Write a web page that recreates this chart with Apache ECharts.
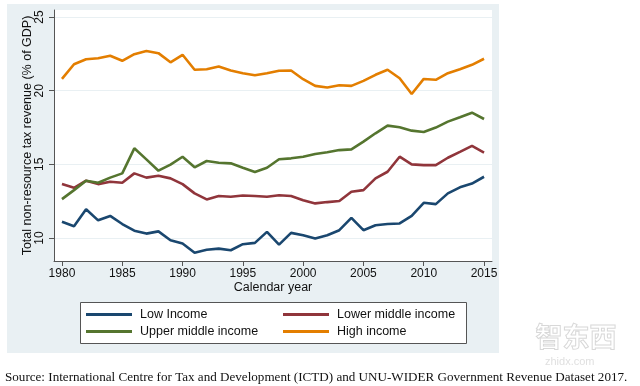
<!DOCTYPE html>
<html>
<head>
<meta charset="utf-8">
<script src="https://cdn.jsdelivr.net/npm/echarts@6/dist/echarts.min.js"></script>
<style>
html,body{margin:0;padding:0;background:#fff;}
#c{width:640px;height:386px;}
</style>
</head>
<body>
<div id="c"></div>
<script>
const years = [];
for (let y = 1980; y <= 2015; y++) years.push(y);
const xTicks = [1980, 1985, 1990, 1995, 2000, 2005, 2010, 2015];
const yTicks = [10, 15, 20, 25];

const lowIncome = [11.1, 10.8, 11.95, 11.2, 11.5, 10.95, 10.5, 10.3, 10.45, 9.85,
  9.63, 9.0, 9.2, 9.28, 9.17, 9.58, 9.67, 10.42, 9.55, 10.35,
  10.19, 9.97, 10.19, 10.53, 11.37, 10.53, 10.87, 10.95, 10.99, 11.51,
  12.39, 12.3, 13.03, 13.44, 13.7, 14.16];
const lowerMiddle = [13.66, 13.41, 13.89, 13.66, 13.82, 13.75, 14.39, 14.1, 14.23, 14.05,
  13.66, 13.03, 12.62, 12.85, 12.8, 12.89, 12.85, 12.8, 12.9, 12.85,
  12.57, 12.35, 12.44, 12.51, 13.14, 13.25, 14.05, 14.5, 15.52, 15.0,
  14.95, 14.95, 15.45, 15.85, 16.26, 15.8];
const upperMiddle = [12.64, 13.25, 13.89, 13.75, 14.1, 14.39, 16.09, 15.34, 14.57, 14.98,
  15.52, 14.8, 15.23, 15.11, 15.07, 14.77, 14.48, 14.77, 15.35, 15.41,
  15.52, 15.7, 15.82, 15.97, 16.02, 16.54, 17.11, 17.63, 17.52, 17.29,
  17.2, 17.5, 17.9, 18.2, 18.51, 18.08];
const highIncome = [20.8, 21.8, 22.14, 22.2, 22.37, 22.03, 22.48, 22.7, 22.55, 21.93,
  22.44, 21.42, 21.46, 21.64, 21.37, 21.19, 21.05, 21.19, 21.36, 21.37,
  20.78, 20.33, 20.22, 20.37, 20.33, 20.67, 21.08, 21.42, 20.85, 19.78,
  20.8, 20.74, 21.19, 21.46, 21.76, 22.17];

const seriesNames = ['Low Income', 'Lower middle income', 'Upper middle income', 'High income'];
const seriesData = [lowIncome, lowerMiddle, upperMiddle, highIncome];
const colors = ['#1a476f', '#90353b', '#55752f', '#e37e00'];

const font = 'Liberation Sans, Arial, sans-serif';
const chart = echarts.init(document.getElementById('c'), null, {renderer: 'canvas'});

function legendFor(name, left, top) {
  return {
    data: [name], left: left, top: top, orient: 'horizontal', z: 20,
    icon: 'rect', itemWidth: 46, itemHeight: 3, padding: 0,
    textStyle: {fontFamily: font, fontSize: 12.5, color: '#111', padding: [0, 0, 0, 3]},
    selectedMode: false
  };
}

const option = {
  animation: false,
  backgroundColor: '#ffffff',
  color: colors,
  graphic: [
    {type: 'rect', z: -10, silent: true, shape: {x: 7, y: 4, width: 492, height: 349}, style: {fill: '#e9f0f3'}},
    {type: 'rect', z: 10, silent: true, shape: {x: 80.5, y: 302.5, width: 386, height: 41}, style: {fill: '#ffffff', stroke: '#555', lineWidth: 1}},
    {type: 'text', z: 1, silent: true, left: 535, top: 323, style: {text: '智东西', fill: 'rgba(255,255,255,0)', stroke: '#d8d8d8', lineWidth: 1, font: 'bold 27px "Noto Sans CJK SC"'}},
    {type: 'text', z: 1, silent: true, left: 545, top: 356, style: {text: 'zhidx.com', fill: '#e0e0e0', font: '11px "Liberation Sans"'}},
    {type: 'text', z: 20, silent: true, left: 5, top: 371, style: {text: 'Source: International Centre for Tax and Development (ICTD) and UNU-WIDER Government Revenue Dataset 2017.', fill: '#111', font: '13.1px "Liberation Serif", "Times New Roman", serif'}}
  ],
  legend: [
    legendFor(seriesNames[0], 86, 308),
    legendFor(seriesNames[1], 283, 308),
    legendFor(seriesNames[2], 86, 325),
    legendFor(seriesNames[3], 283, 325)
  ],
  grid: {left: 54, right: 148, top: 10, bottom: 125, show: true, backgroundColor: '#ffffff', borderWidth: 0},
  xAxis: {
    type: 'value', min: 1979.34, max: 2015.66,
    name: 'Calendar year', nameLocation: 'middle', nameGap: 20, nameMoveOverlap: false,
    nameTextStyle: {fontFamily: font, fontSize: 12.5, color: '#111'},
    axisLine: {show: true, onZero: false, lineStyle: {color: '#555', width: 1}},
    axisTick: {show: true, length: 5, customValues: xTicks, lineStyle: {color: '#555'}},
    axisLabel: {customValues: xTicks, margin: 7, fontFamily: font, fontSize: 12, color: '#111', formatter: v => String(v)},
    splitLine: {show: false}
  },
  yAxis: {
    type: 'value', min: 8.44, max: 25.48,
    name: 'Total non-resource tax revenue (% of GDP)', nameLocation: 'middle', nameGap: 20, nameRotate: 90, nameMoveOverlap: false,
    nameTextStyle: {fontFamily: font, fontSize: 12.5, color: '#111'},
    axisLine: {show: true, lineStyle: {color: '#555', width: 1}},
    axisTick: {show: true, length: 5, customValues: yTicks, lineStyle: {color: '#555'}},
    axisLabel: {customValues: yTicks, rotate: 90, margin: 8, fontFamily: font, fontSize: 12, color: '#111', formatter: v => String(v)},
    splitLine: {show: true, lineStyle: {color: '#e9f0f3', width: 1}}
  },
  series: seriesNames.map((n, i) => ({
    name: n, type: 'line', showSymbol: false, symbol: 'none',
    lineStyle: {width: 2.6, color: colors[i]}, itemStyle: {color: colors[i]},
    data: years.map((y, j) => [y, seriesData[i][j]]), z: 3
  }))
};
chart.setOption(option);
</script>
</body>
</html>
